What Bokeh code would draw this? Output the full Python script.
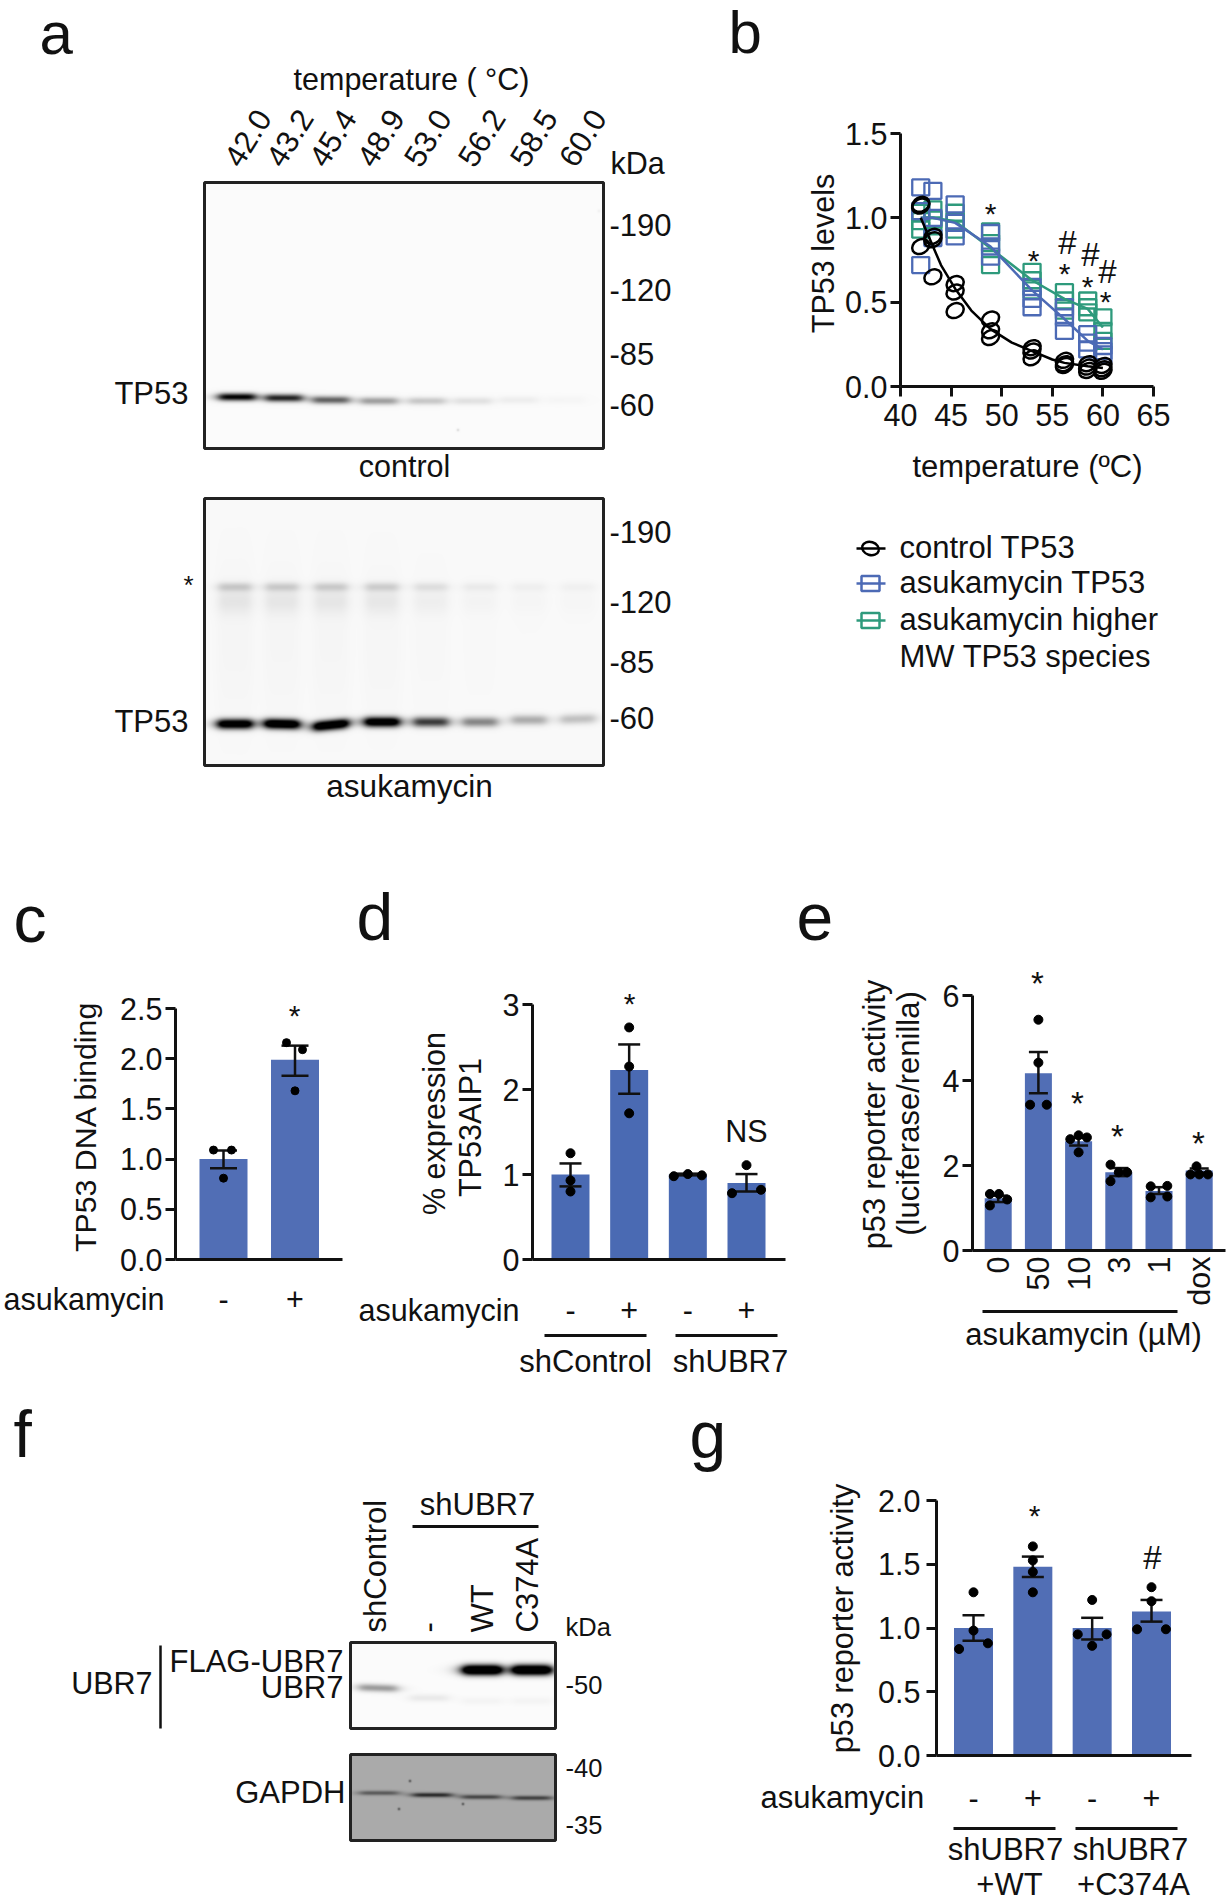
import math
import numpy as np
from bokeh.plotting import figure
from bokeh.models import Range1d, LinearAxis, FixedTicker, PrintfTickFormatter
from bokeh.core.properties import value
from bokeh.embed import file_html
from bokeh.resources import INLINE

# ---------- data ----------
blot_temps = ["42.0", "43.2", "45.4", "48.9", "53.0", "56.2", "58.5", "60.0"]
control_tp53_band = [1.0, 0.85, 0.6, 0.36, 0.2, 0.1, 0.05, 0.02]
asuka_tp53_band = [1.25, 1.35, 1.35, 1.25, 0.75, 0.45, 0.3, 0.22]
asuka_high_band = [0.17, 0.16, 0.16, 0.15, 0.09, 0.05, 0.035, 0.03]
kda_a1 = ["-190", "-120", "-85", "-60"]
kda_a2 = ["-190", "-120", "-85", "-60"]

temps = [42, 43.2, 45.4, 48.9, 53, 56.2, 58.5, 60]
control_reps = [[1.08, 1.07, 0.83], [0.89, 0.87, 0.65], [0.61, 0.56, 0.45], [0.40, 0.33, 0.29],
                [0.23, 0.21, 0.17], [0.155, 0.135, 0.125], [0.135, 0.115, 0.095], [0.125, 0.105, 0.09]]
asuka_reps = [[1.18, 1.04, 0.72], [1.16, 1.0, 0.88], [1.08, 0.97, 0.89], [0.91, 0.83, 0.77],
              [0.59, 0.52, 0.47], [0.47, 0.41, 0.33], [0.31, 0.26, 0.22], [0.24, 0.21, 0.19]]
high_reps = [[1.03, 0.98, 0.93], [1.05, 0.99, 0.95], [1.03, 0.98, 0.93], [0.92, 0.85, 0.72],
             [0.68, 0.63, 0.57], [0.56, 0.51, 0.45], [0.51, 0.47, 0.44], [0.41, 0.33, 0.27]]
control_fit_x = [42, 43, 44, 45.4, 47, 48.9, 51, 53, 55, 56.2, 58.5, 60]
control_fit_y = [1.0, 0.86, 0.72, 0.58, 0.45, 0.34, 0.26, 0.21, 0.16, 0.14, 0.12, 0.11]
asuka_line = [1.0, 1.0, 0.97, 0.83, 0.57, 0.40, 0.27, 0.22]
high_line = [1.0, 1.0, 0.98, 0.82, 0.63, 0.52, 0.46, 0.35]

c_labels = ["-", "+"]
c_means = [1.0, 1.99]
c_sem = [(0.91, 1.085), (1.83, 2.13)]
c_points = [[1.09, 1.09, 0.81], [2.16, 2.09, 1.68]]

d_labels = ["-", "+", "-", "+"]
d_means = [1.0, 2.23, 1.0, 0.90]
d_sem = [(0.86, 1.13), (1.95, 2.53), (0.99, 1.01), (0.80, 1.005)]
d_points = [[1.25, 0.93, 0.80], [2.73, 2.27, 1.72], [0.98, 1.005, 0.99], [1.11, 0.78, 0.82]]

e_labels = ["0", "50", "10", "3", "1", "dox"]
e_means = [1.23, 4.17, 2.57, 1.84, 1.40, 1.88]
e_sem = [(1.14, 1.29), (3.70, 4.67), (2.47, 2.65), (1.75, 1.94), (1.33, 1.49), (1.83, 1.93)]
e_points = [[1.33, 1.33, 1.2, 1.06], [5.43, 4.42, 3.43, 3.43], [2.62, 2.71, 2.66, 2.31],
            [2.02, 1.84, 1.84, 1.63], [1.51, 1.52, 1.25, 1.27], [1.98, 1.79, 1.79, 1.79]]

f_lane_labels = ["shControl", "-", "WT", "C374A"]
f_ubr7_band = [0.38, 0.07, 0.03, 0.03]
f_flag_band = [0.0, 0.0, 1.5, 1.5]
f_gapdh_band = [0.5, 0.8, 0.62, 0.66]

g_labels = ["-", "+", "-", "+"]
g_means = [1.0, 1.48, 1.0, 1.13]
g_sem = [(0.90, 1.10), (1.40, 1.56), (0.91, 1.08), (1.05, 1.22)]
g_points = [[1.28, 0.98, 0.835, 0.88], [1.64, 1.53, 1.44, 1.28], [1.22, 0.95, 0.95, 0.86], [1.32, 1.21, 0.99, 0.99]]

# ---------- layout and style ----------
W, H = 1230, 1902
FONT = "Liberation Sans"
BLUE = "#516EB5"
BLUE_D = "#4A6AB3"
SQ_BLUE = "#4C6AB5"
GREEN = "#2E9A7C"
INK = "#111111"
LAB = 30.5

p = figure(width=W, height=H, x_range=Range1d(0, W), y_range=Range1d(H, 0), output_backend="svg",
           toolbar_location=None, x_axis_location=None, y_axis_location=None, min_border=0,
           outline_line_color=None, background_fill_color="white", border_fill_color="white",
           margin=(0, 0, 0, 0))
p.grid.visible = False
p.extra_y_ranges["up"] = Range1d(0, H)


def T(x, y, s, size=LAB, align="left", base="middle", angle=0.0, color=INK):
    if angle == 0.0:
        y = y - 1
    p.text(x=[x], y=[y], text=[s], text_font=value(FONT), text_font_size=f"{size}px",
           text_align=align, text_baseline=base, angle=angle, text_color=color)


def star(x, y, size=30):
    T(x, y + 0.1 * size, "*", size, "center")


def hline(x0, x1, y, w=3):
    p.segment(x0=[x0], x1=[x1], y0=[y], y1=[y], line_color=INK, line_width=w)


def panel(name, xv0, xp0, xv1, xp1, yv0, yp0, yv1, yp1):
    sx = (xv1 - xv0) / (xp1 - xp0)
    sy = (yv1 - yv0) / (yp1 - yp0)
    p.extra_x_ranges[name] = Range1d(xv0 - xp0 * sx, xv0 + (W - xp0) * sx)
    p.extra_y_ranges[name] = Range1d(yv0 + (H - yp0) * sy, yv0 - yp0 * sy)
    return dict(x_range_name=name, y_range_name=name), (lambda px: xv0 + (px - xp0) * sx)


def style_axis(ax, size=LAB):
    ax.axis_line_color = INK
    ax.axis_line_width = 3
    ax.major_tick_line_color = INK
    ax.major_tick_line_width = 3
    ax.major_tick_in = 0
    ax.minor_tick_line_color = None
    ax.major_label_text_font = FONT
    ax.major_label_text_font_size = f"{size}px"
    ax.major_label_text_color = INK


def y_axis(name, fixed_x, top, ticks, standoff=3, decimals=False):
    ax = LinearAxis(x_range_name=name, y_range_name=name, fixed_location=fixed_x, bounds=(0, top),
                    ticker=FixedTicker(ticks=ticks))
    if decimals:
        ax.formatter = PrintfTickFormatter(format="%.1f")
    style_axis(ax)
    ax.major_tick_out = 10
    ax.major_label_standoff = standoff
    p.add_layout(ax, "left")


def x_axis(name, fixed_y, lo, hi, labels, standoff, orient="horizontal"):
    ax = LinearAxis(x_range_name=name, y_range_name=name, fixed_location=fixed_y, bounds=(lo, hi),
                    ticker=FixedTicker(ticks=list(range(len(labels)))),
                    major_label_overrides={i: s for i, s in enumerate(labels)})
    style_axis(ax)
    ax.major_tick_out = 0
    ax.major_tick_line_color = None
    ax.major_label_standoff = standoff
    ax.major_label_orientation = orient
    p.add_layout(ax, "below")


def bars(kw, means, sem, points, offs, bar_w, cap, dot, color=BLUE):
    xs = list(range(len(means)))
    p.vbar(x=xs, top=means, bottom=0, width=bar_w, fill_color=color, line_color=None, **kw)
    p.segment(x0=xs, x1=xs, y0=[s[0] for s in sem], y1=[s[1] for s in sem], line_color=INK, line_width=2.5, **kw)
    for j in (0, 1):
        p.segment(x0=[x - cap for x in xs], x1=[x + cap for x in xs], y0=[s[j] for s in sem],
                  y1=[s[j] for s in sem], line_color=INK, line_width=2.5, **kw)
    px, py = [], []
    for i, pts in enumerate(points):
        for o, v in zip(offs[i], pts):
            px.append(i + o)
            py.append(v)
    p.scatter(px, py, size=dot, marker="circle", fill_color="black", line_color="black", **kw)


def blot(left, top, right, bottom, bg, bands, specks=()):
    w, h = right - left, bottom - top
    yy, xx = np.mgrid[top:bottom, left:right].astype(float)
    dark = np.full((h, w), bg, dtype=float)
    for cx, cy, hw, sy, s, tilt in bands:
        lateral = 1.0 / (1.0 + ((xx - cx) / hw) ** 6)
        dark += s * lateral * np.exp(-((yy - cy - tilt * (xx - cx)) / sy) ** 2)
    for sx, sy_, s in specks:
        dark += s * np.exp(-((xx - sx) ** 2 + (yy - sy_) ** 2) / 1.5)
    grey = (255 * (1 - np.clip(dark, 0, 1))).astype(np.uint32)
    rgba = (255 << 24) | (grey << 16) | (grey << 8) | grey
    rgba = rgba[::-1].astype(np.uint32)
    p.image_rgba(image=[rgba], x=[left], y=[H - bottom], dw=[w], dh=[h], y_range_name="up")
    p.quad(left=[left], right=[right], top=[top], bottom=[bottom], fill_color=None, line_color="#222222", line_width=3)


# ---------- panel letters ----------
for s, x, y, size in [("a", 39, 34, 60), ("b", 728, 33, 60), ("c", 13, 919, 66), ("d", 356, 917, 66),
                      ("e", 796, 917, 66), ("f", 13, 1434, 66), ("g", 689, 1435, 66)]:
    T(x, y, s, size, "left", "alphabetic")

# ---------- panel a ----------
T(411, 79, "temperature ( °C)", 30.5, "center")
a_lab_x = [226, 268, 311, 359, 406, 460, 512, 561]
for s, x in zip(blot_temps, a_lab_x):
    T(x + 5, 163, s, 31, "left", "middle", math.radians(58))
T(610, 163, "kDa", 30.5)
lanes1 = [236, 283, 330, 378, 426, 472, 518, 565]
ys1 = [396, 397, 399, 400, 400, 400, 399, 399]
blot(204, 182, 603, 448, 0.015, [(x, y, 19, 3.8, s, 0) for x, y, s in zip(lanes1, ys1, control_tp53_band)],
     specks=[(457, 429, 0.15), (598, 210, 0.05)])
for s, y in zip(kda_a1, [225, 290, 354, 405]):
    T(609, y, s, 31)
T(188, 394, "TP53", 31, "right")
T(404, 466, "control", 30.5, "center")

lanes2 = [234, 281, 330, 381, 430, 479, 528, 577]
ys2 = [723, 723, 724, 721, 721, 721, 719, 718]
tilts = [0, 0.02, -0.1, 0, 0, 0, 0, -0.03]
bands2 = []
for x, y, s, t, hb in zip(lanes2, ys2, asuka_tp53_band, tilts, asuka_high_band):
    bands2.append((x, y, 18, 5, s, t))
    bands2.append((x, 586, 17, 4.5, hb, 0))
    bands2.append((x, 600, 17, 13, hb * 0.4, 0))
    bands2.append((x, 640, 18, 90, hb * 0.1, 0))
blot(204, 498, 603, 765, 0.02, bands2)
for s, y in zip(kda_a2, [532, 602, 662, 718]):
    T(609, y, s, 31)
star(188, 583, 26)
T(188, 722, "TP53", 31, "right")
T(409, 786, "asukamycin", 31.5, "center")

# ---------- panel b ----------
kb, fb = panel("b", 40, 900, 65, 1153, 0, 386, 1.5, 133)
ax = LinearAxis(x_range_name="b", y_range_name="b", fixed_location=0, bounds=(40, 65),
                ticker=FixedTicker(ticks=[40, 45, 50, 55, 60, 65]))
style_axis(ax, 30.5)
ax.major_tick_out = 10
ax.major_label_standoff = 7
p.add_layout(ax, "below")
ay = LinearAxis(x_range_name="b", y_range_name="b", fixed_location=40, bounds=(0, 1.5),
                ticker=FixedTicker(ticks=[0, 0.5, 1.0, 1.5]), formatter=PrintfTickFormatter(format="%.1f"))
style_axis(ay, 30.5)
ay.major_tick_out = 10
ay.major_label_standoff = 3
p.add_layout(ay, "left")


def sq_points(reps, color):
    xs, ys = [], []
    for t, r in zip(temps, reps):
        for v in r:
            xs.append(t)
            ys.append(v)
    p.rect(xs, ys, width=17, height=16, width_units="screen", height_units="screen",
           fill_color=None, line_color=color, line_width=2.3, **kb)


sq_points(high_reps, GREEN)
sq_points(asuka_reps, SQ_BLUE)
p.line(temps, high_line, line_color=GREEN, line_width=2.5, **kb)
p.line(temps, asuka_line, line_color=SQ_BLUE, line_width=2.5, **kb)
cx, cy = [], []
for t, r in zip(temps, control_reps):
    for v in r:
        cx.append(t)
        cy.append(v)
p.ellipse(cx, cy, width=18, height=14, angle=0.5, width_units="screen", height_units="screen",
          fill_color=None, line_color="black", line_width=2.5, **kb)
p.line(control_fit_x, control_fit_y, line_color="black", line_width=2.5, **kb)
for x, y in [(990, 211), (1033, 258), (1064, 271), (1087, 284), (1105, 299)]:
    star(x, y, 30)
for x, y in [(1067, 243), (1090, 255), (1107, 272)]:
    T(x, y, "#", 33, "center")
T(822, 253, "TP53 levels", 30.5, "center", "middle", math.pi / 2)
T(1027, 467, "temperature (ºC)", 31, "center")
# legend
leg_y = [548, 583, 620]
leg_c = ["black", SQ_BLUE, GREEN]
leg_t = ["control TP53", "asukamycin TP53", "asukamycin higher"]
for i, (y, c, s) in enumerate(zip(leg_y, leg_c, leg_t)):
    p.segment(x0=[856], x1=[885], y0=[y], y1=[y], line_color=c, line_width=2.5)
    if i == 0:
        p.ellipse([870], [y], width=17, height=13, angle=-0.3, fill_color=None, line_color=c, line_width=2.5,
                  width_units="screen", height_units="screen")
    else:
        p.rect([870], [y], width=18, height=15, width_units="screen", height_units="screen",
               fill_color=None, line_color=c, line_width=2.5)
    T(899, y, s, 31)
T(899, 657, "MW TP53 species", 31)

# ---------- panel c ----------
kc, fc = panel("c", 0, 223, 1, 294.5, 0, 1259, 2.5, 1008)
bars(kc, c_means, c_sem, c_points, [[fc(213), fc(231), 0], [fc(286) - 1, fc(302) - 1, 0]], 48 / 71.5, 13.5 / 71.5, 8)
y_axis("c", fc(175), 2.5, [0, 0.5, 1.0, 1.5, 2.0, 2.5], decimals=True)
x_axis("c", 0, fc(175), fc(342), c_labels, 28)
T(85, 1126, "TP53 DNA binding", 30.3, "center", "middle", math.pi / 2)
T(3, 1299, "asukamycin", 30.5)
star(294, 1013)

# ---------- panel d ----------
kd, fd = panel("d", 0, 570, 3, 746, 0, 1259, 3, 1004)
dx = 176 / 3
d_offs = [[0, 0, 0], [0, 0, 0], [-14 / dx, 0, 14 / dx], [0, -14.5 / dx, 14.5 / dx]]
bars(kd, d_means, d_sem, d_points, d_offs, 38 / dx, 11 / dx, 9, color=BLUE_D)
y_axis("d", fd(532), 3, [0, 1, 2, 3])
x_axis("d", 0, fd(532), fd(785), d_labels, 39)
T(433, 1123, "% expression", 30.5, "center", "middle", math.pi / 2)
T(469, 1127, "TP53AIP1", 30.5, "center", "middle", math.pi / 2)
T(358, 1310, "asukamycin", 30.5)
hline(544, 646, 1335)
hline(675, 777, 1335)
T(585, 1362, "shControl", 31, "center")
T(730, 1362, "shUBR7", 31, "center")
star(629, 1001)
T(746, 1131, "NS", 30.5, "center")

# ---------- panel e ----------
ke, fe = panel("e", 0, 997.7, 5, 1198.7, 0, 1250, 6, 995)
dx = 201 / 5
e_offs = [[-8.3, 0.7, 9, -8.3], [0, 0, -8.3, 8.3], [-8.3, 0, 8.3, 0], [-8.3, 0, 8.3, -8.3], [-8.3, 8.3, -8.3, 8.3], [-2.7, -8.7, 0, 8.7]]
e_offs = [[o / dx for o in r] for r in e_offs]
bars(ke, e_means, e_sem, e_points, e_offs, 27 / dx, 9.5 / dx, 9)
y_axis("e", fe(972), 6, [0, 2, 4, 6])
x_axis("e", 0, fe(972), fe(1225), e_labels, 6, math.pi / 2)
T(874, 1114, "p53 reporter activity", 30.7, "center", "middle", math.pi / 2)
T(908, 1113, "(luciferase/renilla)", 31, "center", "middle", math.pi / 2)
for x, y in [(1037, 981), (1077, 1101), (1117, 1134), (1198, 1141)]:
    star(x, y, 33)
hline(982, 1177, 1311)
T(1083, 1335, "asukamycin (µM)", 31, "center")

# ---------- panel f ----------
f_x = [377, 428, 481, 531]
f_y_ubr = [1687, 1697, 1700, 1700]
fb1 = [(x, y, 20, 3.8, s, 0.03 if i == 0 else 0) for i, (x, y, s) in enumerate(zip(f_x, f_y_ubr, f_ubr7_band))]
fb1 += [(x, 1669, 20, 5.2, s, 0) for x, s in zip(f_x, f_flag_band) if s > 0]
blot(350, 1642, 555, 1728, 0.012, fb1)
f_y_g = [1792, 1794, 1796, 1797]
blot(350, 1754, 555, 1840, 0.33, [(x, y, 20, 2.2, s * 0.65, 0) for x, y, s in zip([378, 431, 480, 531], f_y_g, f_gapdh_band)],
     specks=[(409, 1780, 0.4), (398, 1808, 0.4), (462, 1803, 0.4)])
for s, x, y in zip(f_lane_labels, [375, 427, 482, 527], [1632, 1632, 1632, 1632]):
    T(x, y, s, 31, "left", "middle", math.pi / 2)
T(477, 1505, "shUBR7", 31, "center")
hline(412, 538, 1526)
T(565, 1627, "kDa", 25.5)
for s, y in [("-50", 1685), ("-40", 1768), ("-35", 1825)]:
    T(565, y, s, 25.5)
T(152, 1683, "UBR7", 30.5, "right")
p.segment(x0=[160], x1=[160], y0=[1645], y1=[1728], line_color=INK, line_width=2.5)
T(343, 1662, "FLAG-UBR7", 31, "right")
T(343, 1688, "UBR7", 31, "right")
T(345, 1793, "GAPDH", 31, "right")

# ---------- panel g ----------
kg, fg = panel("g", 0, 973, 3, 1151, 0, 1755, 2, 1500)
dx = 178 / 3
g_offs = [[0, 0, -14.4, 14.4], [0, 0, 0, 0], [0, -14.4, 14.4, 0], [0, 0, -14.4, 14.4]]
g_offs = [[o / dx for o in r] for r in g_offs]
bars(kg, g_means, g_sem, g_points, g_offs, 39 / dx, 11 / dx, 9)
y_axis("g", fg(936), 2, [0, 0.5, 1.0, 1.5, 2.0], standoff=6, decimals=True)
x_axis("g", 0, fg(936), fg(1191), g_labels, 31)
T(842, 1618, "p53 reporter activity", 30.7, "center", "middle", math.pi / 2)
T(760, 1798, "asukamycin", 31)
hline(953, 1055, 1828)
hline(1075, 1177, 1828)
T(1005, 1850, "shUBR7", 31, "center")
T(1009, 1885, "+WT", 31, "center")
T(1130, 1850, "shUBR7", 31, "center")
T(1133, 1885, "+C374A", 31, "center")
star(1034, 1513)
T(1152, 1558, "#", 33, "center")

open("out.html", "w").write(file_html(p, INLINE))
